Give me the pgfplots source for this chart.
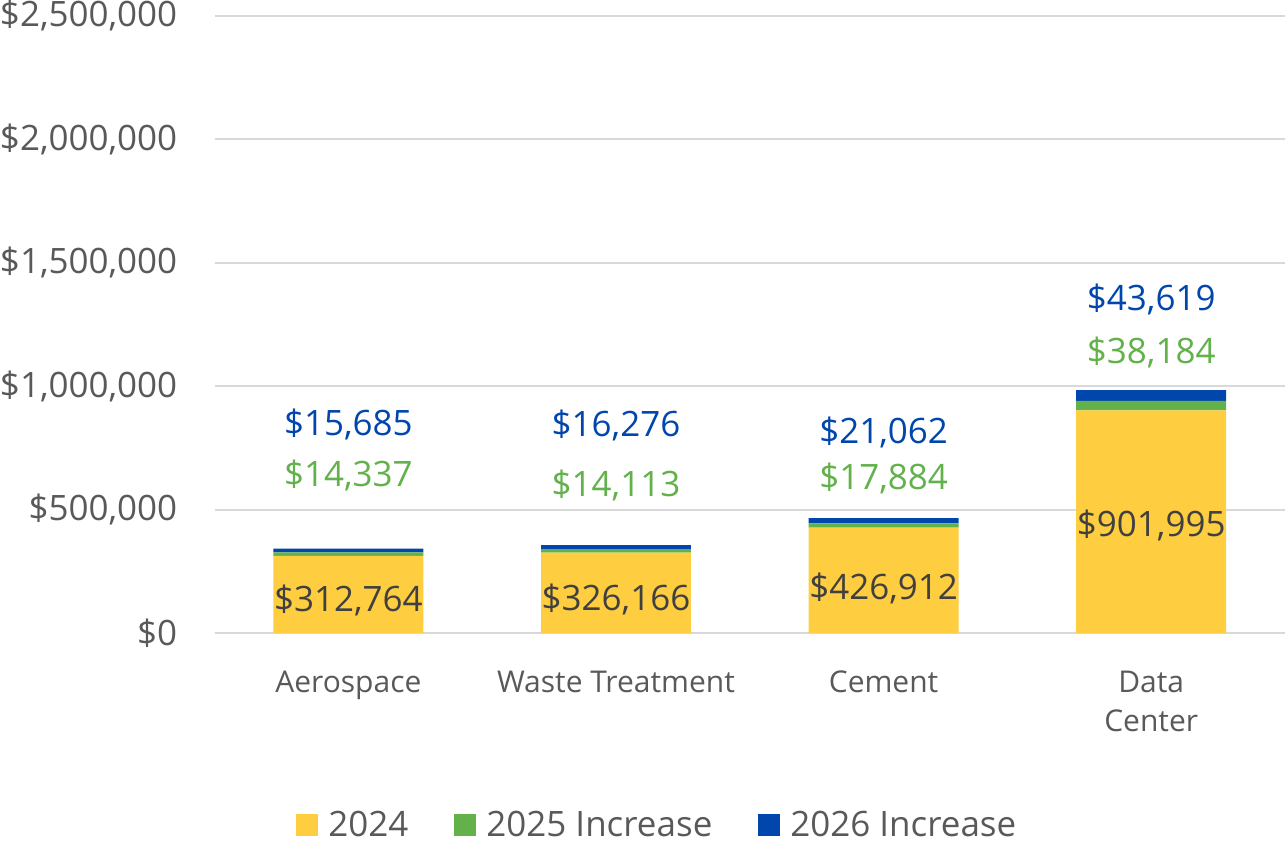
\documentclass[border=0pt]{standalone}
\usepackage{fontspec}
\setmainfont{Open Sans}
\usepackage{pgfplots}
\pgfplotsset{compat=1.18}
\definecolor{cY}{HTML}{FFCD40}
\definecolor{cG}{HTML}{62B14B}
\definecolor{cB}{HTML}{0046AD}
\definecolor{cTxt}{HTML}{595959}
\definecolor{cDk}{HTML}{404040}
\definecolor{cGrid}{HTML}{D9D9D9}
\tikzset{lbl/.style={anchor=base, font=\fontsize{17.5}{21}\selectfont, inner sep=0pt}}
\begin{document}
\begin{tikzpicture}
\begin{axis}[
  scale only axis,
  width=535.5pt, height=309pt,
  ybar stacked,
  bar width=75pt,
  xmin=-0.5, xmax=3.5,
  ymin=0, ymax=2500000,
  axis line style={draw=none},
  major tick length=0pt,
  ymajorgrids, grid style={color=cGrid, line width=1pt},
  ytick={0,500000,1000000,1500000,2000000,2500000},
  yticklabels={{\$0},{\$500,000},{\$1,000,000},{\$1,500,000},{\$2,000,000},{\$2,500,000}},
  scaled y ticks=false,
  yticklabel style={anchor=east, inner sep=0pt, xshift=-18.5pt, font=\fontsize{17.5}{21}\selectfont, text=cTxt},
  xtick={0,1,2,3},
  xticklabels={Aerospace,Waste Treatment,Cement,{Data\\Center}},
  xticklabel style={anchor=north, inner sep=0pt, yshift=-18.5pt, align=center, font=\fontsize{15}{20}\selectfont, text=cTxt},
  legend columns=3,
  legend style={draw=none, at={(0.4146,-0.311)}, anchor=center, font=\fontsize{17.5}{21}\selectfont, text=cTxt,
    /tikz/every odd column/.append style={column sep=3pt},
    /tikz/every even column/.append style={column sep=21pt}},
  legend image code/.code={\fill[#1] (0pt,-5.5pt) rectangle (11pt,5.5pt);},
  clip=false,
]
\addplot[fill=cY, draw=none] coordinates {(0,312764) (1,326166) (2,426912) (3,901995)};
\addplot[fill=cG, draw=none] coordinates {(0,14337) (1,14113) (2,17884) (3,38184)};
\addplot[fill=cB, draw=none] coordinates {(0,15685) (1,16276) (2,21062) (3,43619)};
\legend{2024,2025 Increase,2026 Increase}
\coordinate (y0) at (axis cs:0,89000);
\coordinate (y1) at (axis cs:1,93000);
\coordinate (y2) at (axis cs:2,134700);
\coordinate (y3) at (axis cs:3,392400);
\coordinate (g0) at (axis cs:0,594700);
\coordinate (g1) at (axis cs:1,554200);
\coordinate (g2) at (axis cs:2,583700);
\coordinate (g3) at (axis cs:3,1092200);
\coordinate (b0) at (axis cs:0,802200);
\coordinate (b1) at (axis cs:1,796900);
\coordinate (b2) at (axis cs:2,768600);
\coordinate (b3) at (axis cs:3,1307900);
\end{axis}
\node[lbl, text=cDk] at (y0) {\$312,764};
\node[lbl, text=cDk] at (y1) {\$326,166};
\node[lbl, text=cDk] at (y2) {\$426,912};
\node[lbl, text=cDk] at (y3) {\$901,995};
\node[lbl, text=cG] at (g0) {\$14,337};
\node[lbl, text=cG] at (g1) {\$14,113};
\node[lbl, text=cG] at (g2) {\$17,884};
\node[lbl, text=cG] at (g3) {\$38,184};
\node[lbl, text=cB] at (b0) {\$15,685};
\node[lbl, text=cB] at (b1) {\$16,276};
\node[lbl, text=cB] at (b2) {\$21,062};
\node[lbl, text=cB] at (b3) {\$43,619};
\end{tikzpicture}
\end{document}
